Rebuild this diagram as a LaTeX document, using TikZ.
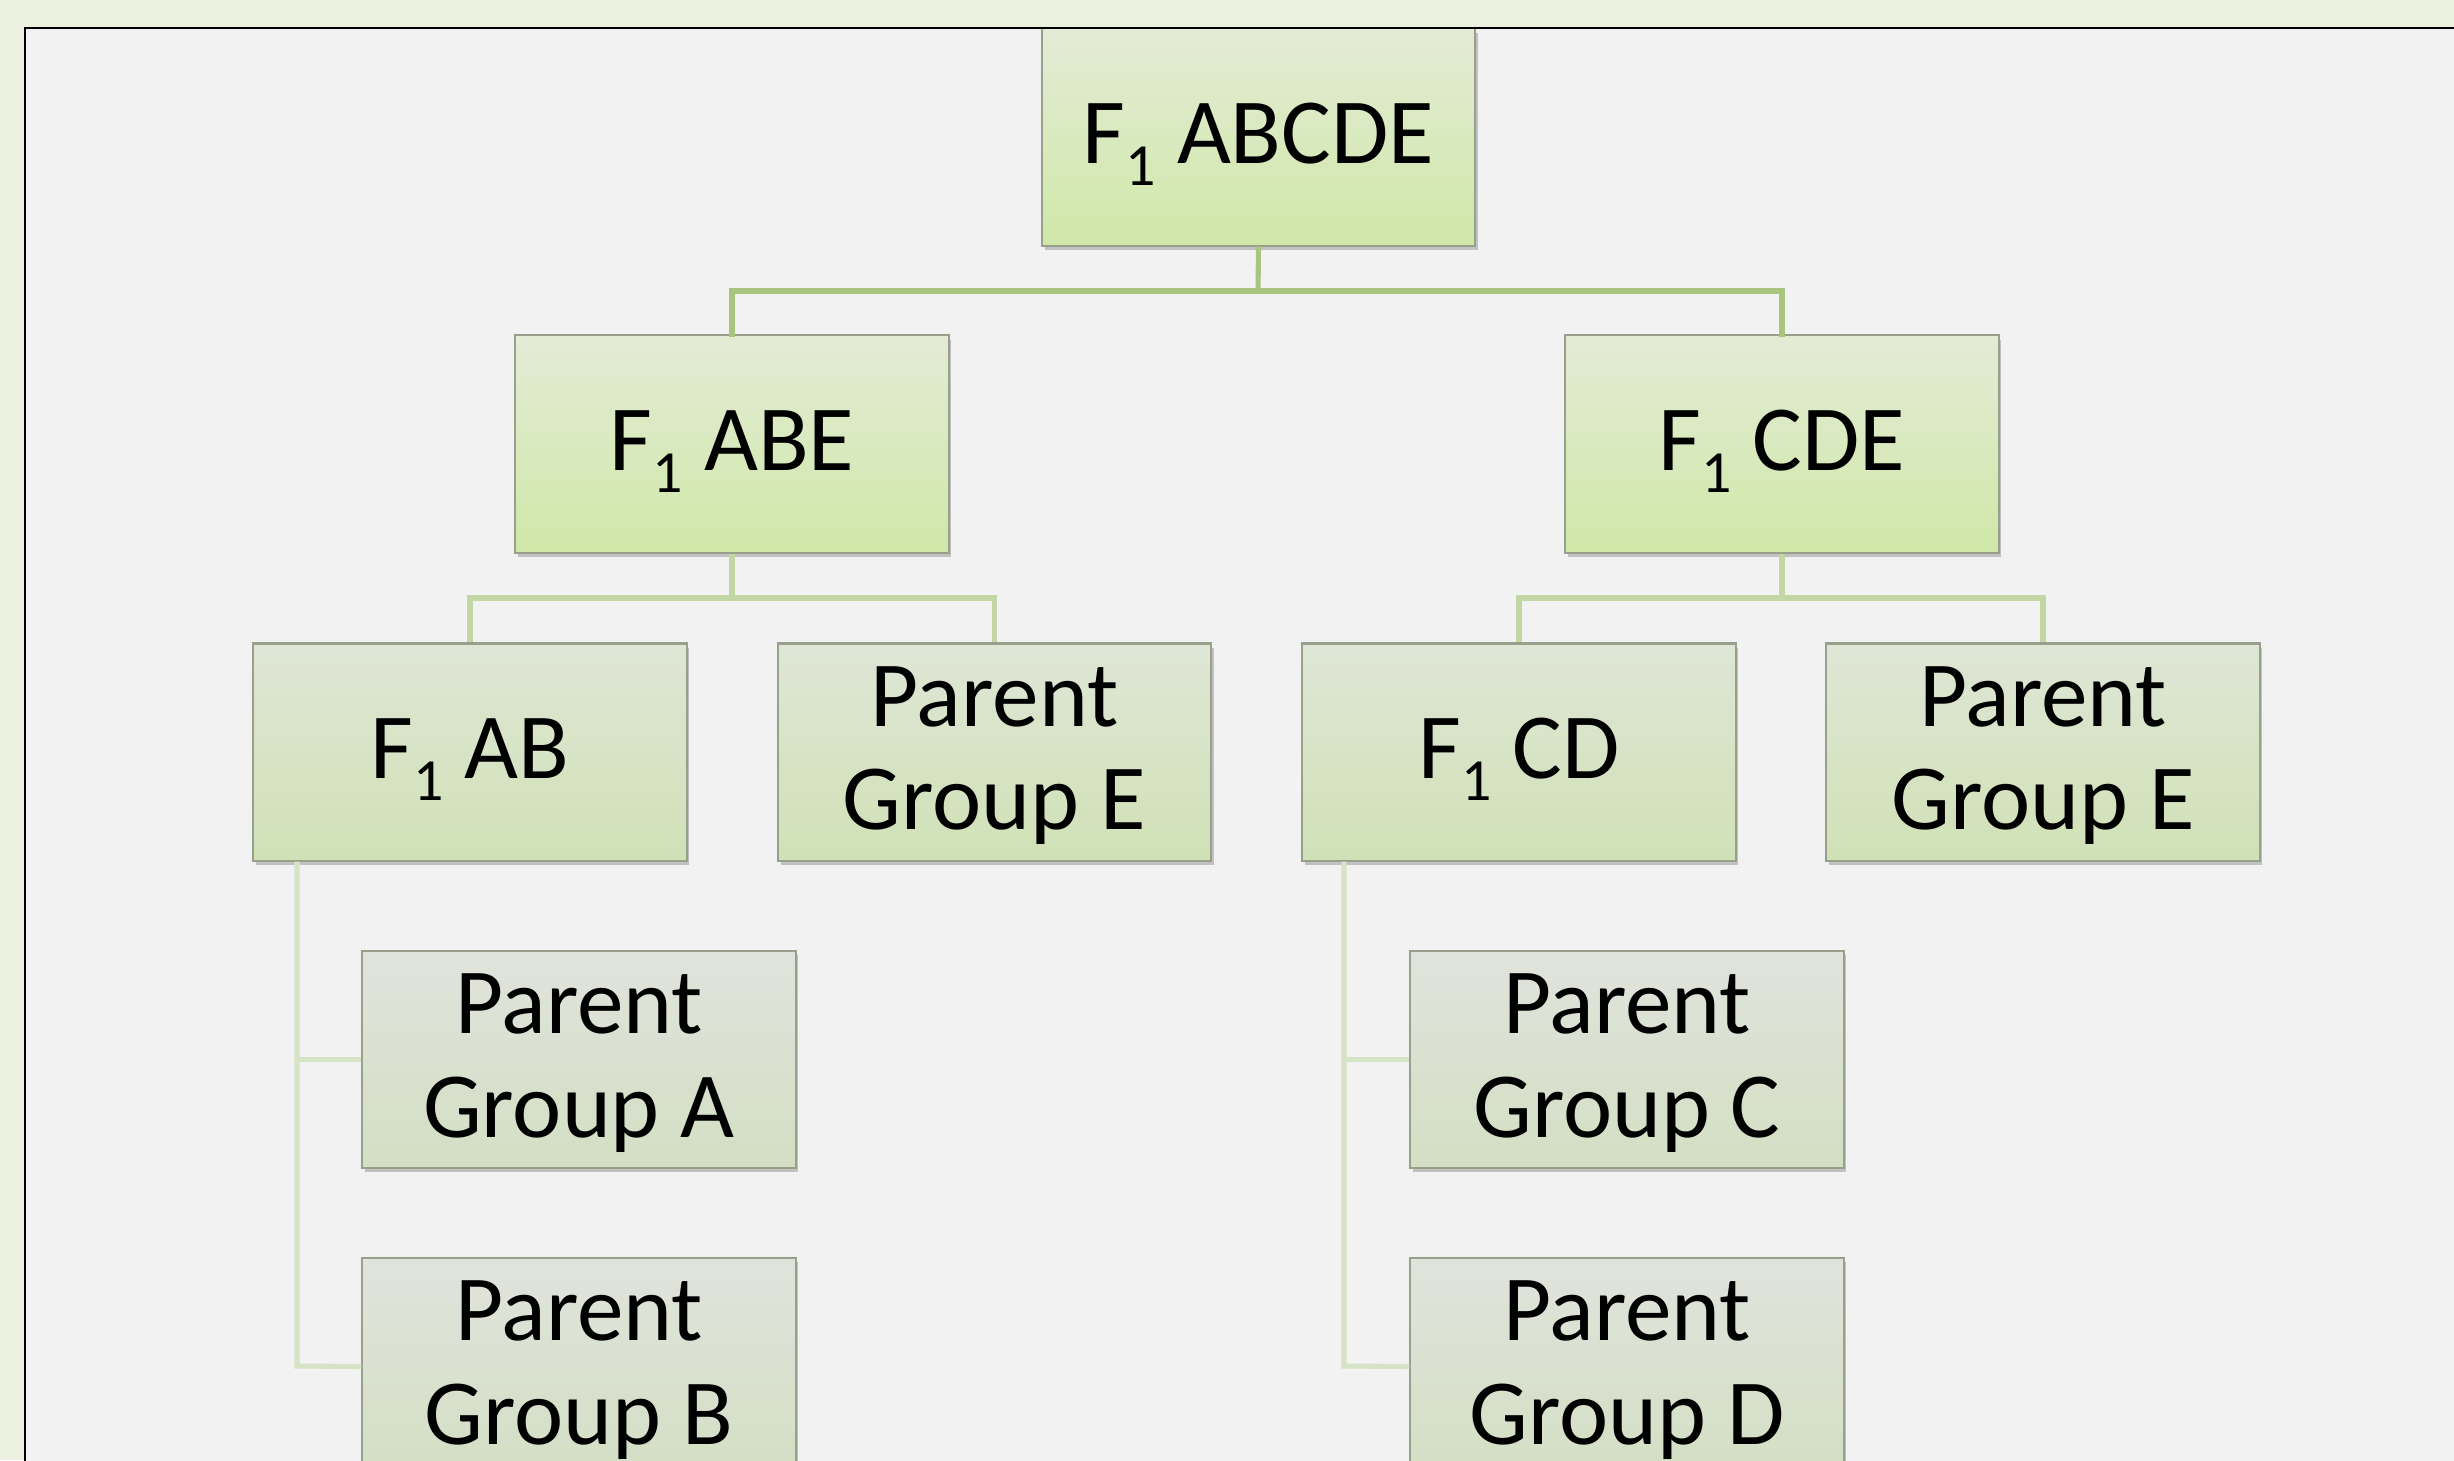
\documentclass[tikz,border=0pt]{standalone}
\usepackage{fontspec}
\setmainfont{Carlito}
\usetikzlibrary{shadows}
\definecolor{outerbg}{HTML}{EBF0DF}
\definecolor{innerbg}{HTML}{F2F2F2}
\definecolor{conA}{HTML}{A9C47F}
\definecolor{conB}{HTML}{C3D7A5}
\definecolor{conC}{HTML}{D7E3C6}
\definecolor{boxedge}{HTML}{98A08C}
\definecolor{gA}{HTML}{E4EBD6}
\definecolor{gAb}{HTML}{CFE8A8}
\definecolor{gB}{HTML}{DFE6D6}
\definecolor{gBb}{HTML}{D0E1B6}
\definecolor{gC}{HTML}{E0E3DC}
\definecolor{gCb}{HTML}{D4DFC4}
\tikzset{
  x=0.01cm, y=-0.01cm,
  orgbox/.style={draw=boxedge, line width=0.6pt, minimum width=4.33cm, minimum height=2.17cm,
    inner sep=0pt, align=center, font=\fontsize{26.5}{29.5}\selectfont,
    drop shadow={shadow xshift=0.8pt, shadow yshift=-1.2pt, opacity=0.35, fill=black!60}},
  lvA/.style={orgbox, top color=gA, bottom color=gAb},
  lvB/.style={orgbox, top color=gB, bottom color=gBb},
  lvC/.style={orgbox, top color=gC, bottom color=gCb},
  cA/.style={draw=conA, line width=1.45pt},
  cB/.style={draw=conB, line width=1.45pt},
  cC/.style={draw=conC, line width=1.45pt},
}
\newcommand{\Fone}{F\raisebox{-6.5pt}{\fontsize{17}{17}\selectfont 1}}
\newcommand{\lowtxt}[1]{\raisebox{-1.5pt}[\height][\depth]{\begin{tabular}{@{}c@{}}#1\end{tabular}}}
\begin{document}
\begin{tikzpicture}
\useasboundingbox (0,0) rectangle (2454,1460);
\fill[outerbg] (0,0) rectangle (2454,1460);
\fill[innerbg] (24,27) rectangle (2470,1480);

\coordinate (busA) at (1258,291);
\coordinate (busB) at (732,598);
\coordinate (busC) at (1782,598);
\coordinate (vL) at (297,1366);
\coordinate (vR) at (1344,1366);

\node[lvA] (top) at (1258.5,137) {\lowtxt{\Fone\ ABCDE}};
\node[lvA] (abe) at (732,444) {\lowtxt{\Fone\ ABE}};
\node[lvA] (cde) at (1782,444) {\lowtxt{\Fone\ CDE}};
\node[lvB] (ab) at (470,752) {\lowtxt{\Fone\ AB}};
\node[lvB] (pge1) at (994.5,752) {\lowtxt{Parent\\Group E}};
\node[lvB] (cd) at (1519,752) {\lowtxt{\Fone\ CD}};
\node[lvB] (pge2) at (2043,752) {\lowtxt{Parent\\Group E}};
\node[lvC] (pga) at (579,1059.5) {\lowtxt{Parent\\Group A}};
\node[lvC] (pgb) at (579,1366.5) {\lowtxt{Parent\\Group B}};
\node[lvC] (pgc) at (1627,1059.5) {\lowtxt{Parent\\Group C}};
\node[lvC] (pgd) at (1627,1366.5) {\lowtxt{Parent\\Group D}};

\draw[cA] (top.south) -- (busA);
\draw[cA, line cap=rect] (abe.north) -- (abe.north |- busA) -- (cde.north |- busA) -- (cde.north);
\draw[cB] (abe.south) -- (busB);
\draw[cB] (ab.north) -- (ab.north |- busB) -- (pge1.north |- busB) -- (pge1.north);
\draw[cB] (cde.south) -- (busC);
\draw[cB] (cd.north) -- (cd.north |- busC) -- (pge2.north |- busC) -- (pge2.north);
\draw[cC] (vL |- ab.south) -- (vL) -- (pgb.west);
\draw[cC] (vL |- pga.west) -- (pga.west);
\draw[cC] (vR |- cd.south) -- (vR) -- (pgd.west);
\draw[cC] (vR |- pgc.west) -- (pgc.west);

\draw[black, line width=0.85pt] (25,1480) -- (25,28) -- (2470,28);
\end{tikzpicture}
\end{document}
